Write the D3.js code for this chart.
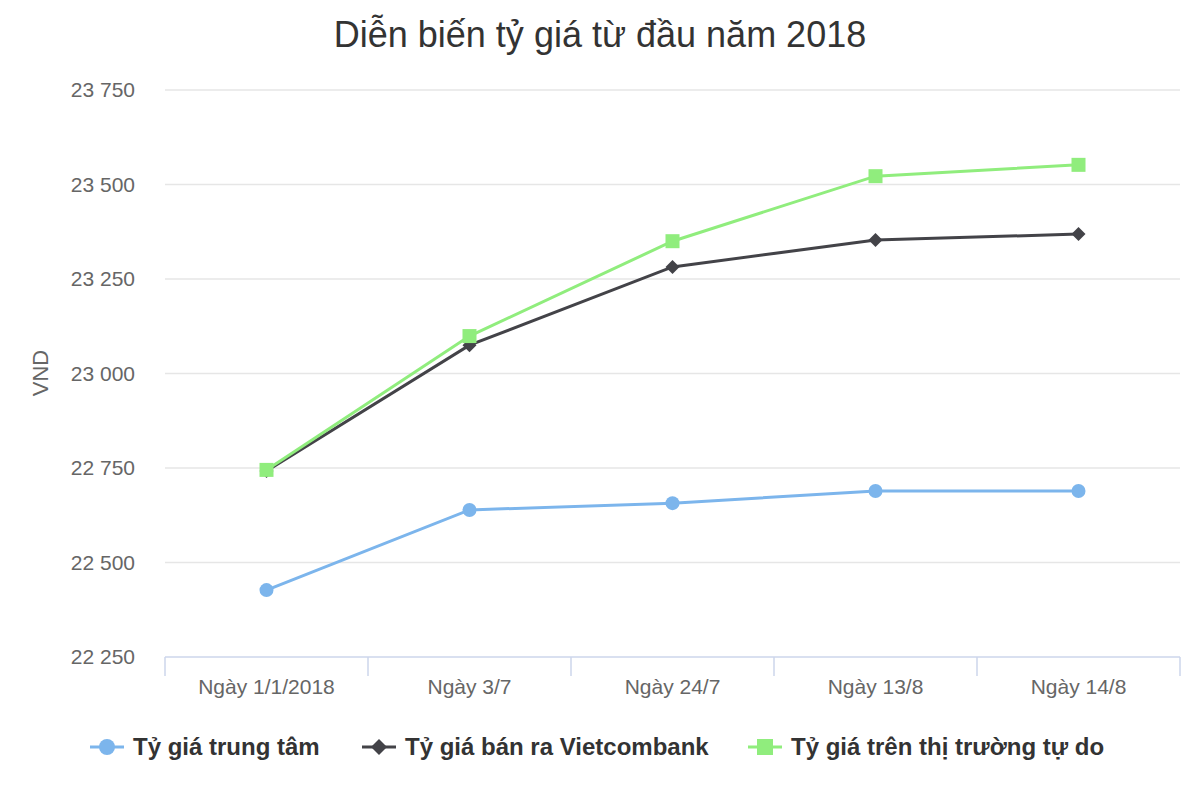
<!DOCTYPE html>
<html><head><meta charset="utf-8">
<script src="https://cdn.jsdelivr.net/npm/d3@7"></script>
<style>body{margin:0;background:#fff}svg{font-family:"Liberation Sans",Arial,sans-serif}</style>
</head><body><svg id="c" width="1200" height="800"></svg>
<script>
const categories=["Ngày 1/1/2018","Ngày 3/7","Ngày 24/7","Ngày 13/8","Ngày 14/8"];
const central=[22427,22639,22657,22689,22689];
const vcb=[22742,23075,23282,23353,23369];
const free=[22745,23099,23350,23522,23552];
const yTicks=[22250,22500,22750,23000,23250,23500,23750];
const seriesNames=["Tỷ giá trung tâm","Tỷ giá bán ra Vietcombank","Tỷ giá trên thị trường tự do"];
const colors=["#7cb5ec","#434348","#90ed7d"];
const shapes=["circle","diamond","square"];
const data=[central,vcb,free];

const svg=d3.select("#c");
const x=d3.scaleBand().domain(categories).range([165,1180]);
const y=d3.scaleLinear().domain([22250,23750]).range([657,90]);
const fmt=v=>d3.format(",")(v).replace(","," ");

svg.append("text").attr("x",600).attr("y",47).attr("text-anchor","middle").attr("font-size",36).attr("fill","#333").text("Diễn biến tỷ giá từ đầu năm 2018");

yTicks.forEach(t=>{
  if(t>22250) svg.append("line").attr("x1",165).attr("x2",1180).attr("y1",y(t)).attr("y2",y(t)).attr("stroke","#e6e6e6").attr("stroke-width",1.5);
  svg.append("text").attr("x",135).attr("y",y(t)+7).attr("text-anchor","end").attr("font-size",21).attr("fill","#666").text(fmt(t));
});
svg.append("text").attr("transform","translate(48,373) rotate(-90)").attr("text-anchor","middle").attr("font-size",22).attr("fill","#666").text("VND");

svg.append("line").attr("x1",165).attr("x2",1180).attr("y1",657).attr("y2",657).attr("stroke","#ccd6eb").attr("stroke-width",1.5);
categories.concat([null]).forEach((c,i)=>{
  const xx=c?x(c):x.range()[1];
  svg.append("line").attr("x1",xx).attr("x2",xx).attr("y1",657).attr("y2",676).attr("stroke","#ccd6eb").attr("stroke-width",1.5);
});
categories.forEach(c=>svg.append("text").attr("x",x(c)+x.bandwidth()/2).attr("y",694).attr("text-anchor","middle").attr("font-size",21).attr("fill","#666").text(c));

const cx=c=>x(c)+x.bandwidth()/2;
const line=d3.line().x((d,i)=>cx(categories[i])).y(d=>y(d));
function marker(g,shape,px,py,col,s){
  if(shape==="circle") g.append("circle").attr("cx",px).attr("cy",py).attr("r",s).attr("fill",col);
  else if(shape==="square") g.append("rect").attr("x",px-s).attr("y",py-s).attr("width",2*s).attr("height",2*s).attr("fill",col);
  else g.append("path").attr("d",`M${px},${py-s}L${px+s},${py}L${px},${py+s}L${px-s},${py}Z`).attr("fill",col);
}
data.forEach((arr,k)=>{
  const g=svg.append("g");
  g.append("path").attr("d",line(arr)).attr("fill","none").attr("stroke",colors[k]).attr("stroke-width",3);
  arr.forEach((v,i)=>marker(g,shapes[k],cx(categories[i]),y(v),colors[k],7));
});

const legX=[90,362,748];
seriesNames.forEach((n,k)=>{
  const g=svg.append("g");
  g.append("line").attr("x1",legX[k]).attr("x2",legX[k]+34).attr("y1",747).attr("y2",747).attr("stroke",colors[k]).attr("stroke-width",3);
  marker(g,shapes[k],legX[k]+17,747,colors[k],8);
  g.append("text").attr("x",legX[k]+43).attr("y",755).attr("font-size",24).attr("font-weight","bold").attr("fill","#333").text(n);
});
</script></body></html>
